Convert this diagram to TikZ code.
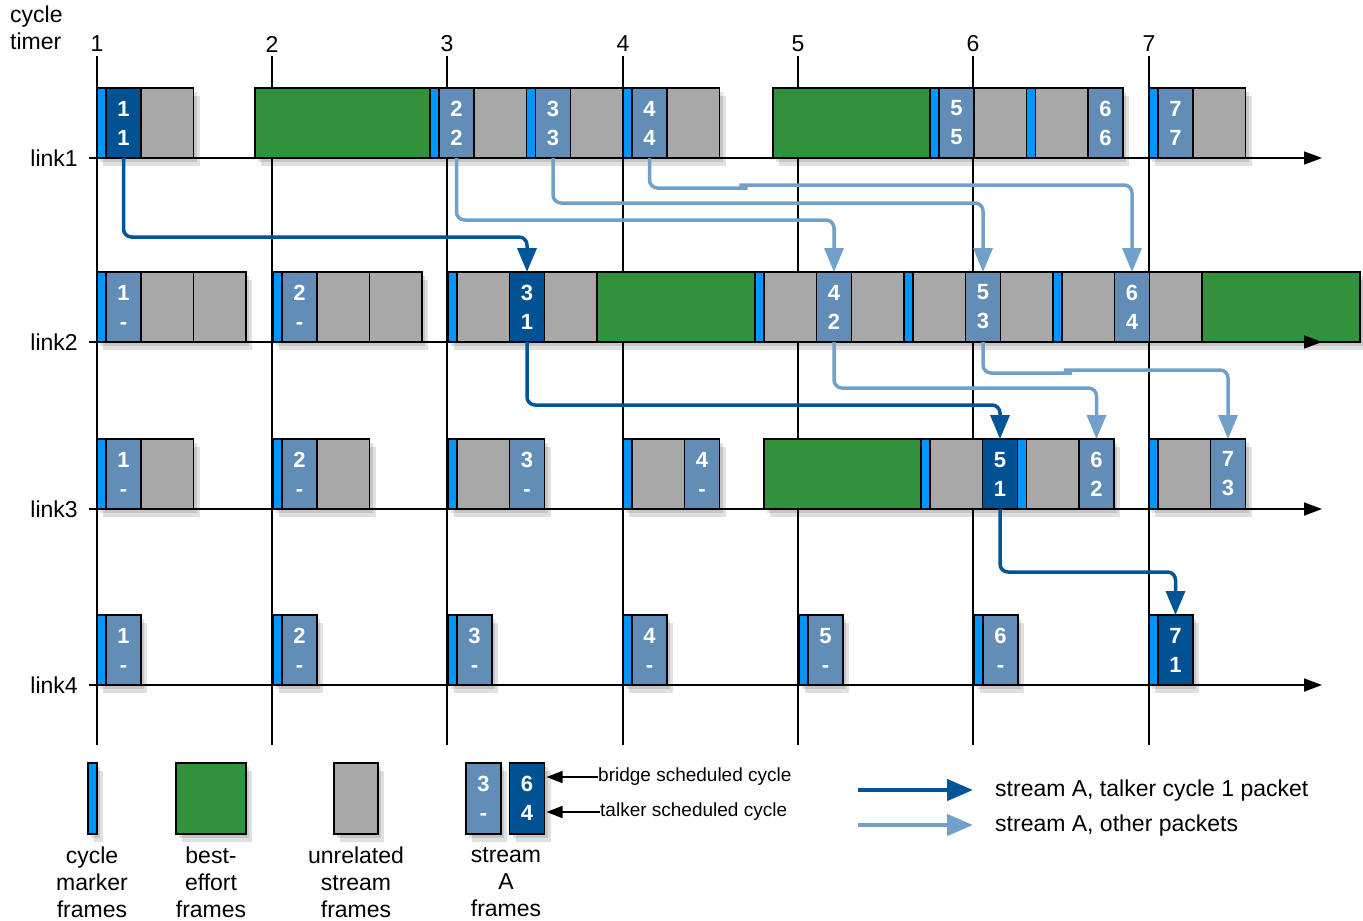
\documentclass[tikz,border=0pt]{standalone}
\usepackage{fontspec}
\setmainfont{Liberation Sans}
\usetikzlibrary{arrows.meta, positioning, backgrounds}
\definecolor{mkblue}{RGB}{0,150,255}
\definecolor{stlight}{RGB}{98,141,182}
\definecolor{stdark}{RGB}{0,82,147}
\definecolor{begreen}{RGB}{50,145,60}
\definecolor{ufgray}{RGB}{168,168,168}
\definecolor{clight}{RGB}{113,160,203}
\definecolor{cdark}{RGB}{0,85,150}

\begin{document}
\begin{tikzpicture}[
  x=1pt, y=-1pt,
  node distance=0pt,
  every node/.style={font=\fontsize{23}{27}\selectfont},
  frame/.style={rectangle, draw=black, line width=1.6pt, outer sep=0pt, inner sep=0pt,
    minimum height=70pt, text=white, align=center, font=\bfseries\fontsize{22}{29}\selectfont},
  mk/.style={frame, fill=mkblue, minimum width=9pt},
  sa/.style={frame, fill=stlight, minimum width=35pt},
  sd/.style={frame, fill=stdark, minimum width=35pt},
  uf/.style={frame, fill=ufgray, minimum width=52.5pt},
  be/.style={frame, fill=begreen, minimum width=#1},
  cyc/.style={line width=1.3pt},
  axis/.style={line width=1.5pt, -{Triangle[width=13pt,length=18pt]}},
  con/.style={line width=3.5pt, rounded corners=8pt, -{Triangle[width=19pt,length=24pt]}},
  darkcon/.style={con, draw=cdark},
  lightcon/.style={con, draw=clight},
  legarr/.style={line width=4.5pt, -{Triangle[width=21pt,length=26pt]}},
  pointer/.style={line width=1.5pt, -{Triangle[width=12pt,length=16pt]}, shorten >=2pt},
  boxshade/.style={fill=black, opacity=0.12},
]
\useasboundingbox (0,0) rectangle (1363,921);

%% cycle timer
\node[anchor=north west, align=left, inner sep=0pt] (ctim) at (10,6) {cycle\\timer};
\foreach \i/\x in {1/97,2/272,3/447,4/623,5/798,6/973,7/1149} {
  \node[inner sep=4pt] (t\i) at (\x,44) {\i};
  \coordinate (g\i) at (\x,745);
  \draw[cyc] (t\i) -- (g\i);
}

%% link labels
\foreach \r/\y in {1/158,2/342,3/509,4/685} {
  \node[anchor=east, inner sep=0pt] (l\r) at (78,\y) {link\r};
  \coordinate (e\r) at (1322,\y);
}

%% link1
\node[mk, anchor=south west] (m1a) at (97,158) {};
\node[sd, right=of m1a] (a1) {1\\1};
\node[uf, right=of a1] (u1a) {};
\node[be=175pt, anchor=south west] (g1a) at (255,158) {};
\node[mk, right=of g1a] (m1b) {};
\node[sa, right=of m1b] (a2) {2\\2};
\node[uf, right=of a2] (u1b) {};
\node[mk, right=of u1b] (m1c) {};
\node[sa, right=of m1c] (a3) {3\\3};
\node[uf, right=of a3] (u1c) {};
\node[mk, right=of u1c] (m1d) {};
\node[sa, right=of m1d] (a4) {4\\4};
\node[uf, right=of a4] (u1d) {};
\node[be=157pt, anchor=south west] (g1b) at (773,158) {};
\node[mk, right=of g1b] (m1e) {};
\node[sa, right=of m1e] (a5) {5\\5};
\node[uf, right=of a5] (u1e) {};
\node[mk, right=of u1e] (m1f) {};
\node[uf, right=of m1f] (u1f) {};
\node[sa, right=of u1f] (a6) {6\\6};
\node[mk, anchor=south west] (m1g) at (1149,158) {};
\node[sa, right=of m1g] (a7) {7\\7};
\node[uf, right=of a7] (u1g) {};

%% link2
\node[mk, anchor=south west] (m2a) at (97,342) {};
\node[sa, right=of m2a] (b1) {1\\-};
\node[uf, right=of b1] (u2a) {};
\node[uf, right=of u2a] (u2b) {};
\node[mk, anchor=south west] (m2b) at (273,342) {};
\node[sa, right=of m2b] (b2) {2\\-};
\node[uf, right=of b2] (u2c) {};
\node[uf, right=of u2c] (u2d) {};
\node[mk, anchor=south west] (m2c) at (448,342) {};
\node[uf, right=of m2c] (u2e) {};
\node[sd, right=of u2e] (b3) {3\\1};
\node[uf, right=of b3] (u2f) {};
\node[be=158pt, right=of u2f] (g2a) {};
\node[mk, right=of g2a] (m2d) {};
\node[uf, right=of m2d] (u2g) {};
\node[sa, right=of u2g] (b4) {4\\2};
\node[uf, right=of b4] (u2h) {};
\node[mk, right=of u2h] (m2e) {};
\node[uf, right=of m2e] (u2i) {};
\node[sa, right=of u2i] (b5) {5\\3};
\node[uf, right=of b5] (u2j) {};
\node[mk, right=of u2j] (m2f) {};
\node[uf, right=of m2f] (u2k) {};
\node[sa, right=of u2k] (b6) {6\\4};
\node[uf, right=of b6] (u2l) {};
\node[be=158pt, right=of u2l] (g2b) {};

%% link3
\node[mk, anchor=south west] (m3a) at (97,509) {};
\node[sa, right=of m3a] (c1) {1\\-};
\node[uf, right=of c1] (u3a) {};
\node[mk, anchor=south west] (m3b) at (273,509) {};
\node[sa, right=of m3b] (c2) {2\\-};
\node[uf, right=of c2] (u3b) {};
\node[mk, anchor=south west] (m3c) at (448,509) {};
\node[uf, right=of m3c] (u3c) {};
\node[sa, right=of u3c] (c3) {3\\-};
\node[mk, anchor=south west] (m3d) at (623,509) {};
\node[uf, right=of m3d] (u3d) {};
\node[sa, right=of u3d] (c4) {4\\-};
\node[be=157pt, anchor=south west] (g3a) at (764,509) {};
\node[mk, right=of g3a] (m3e) {};
\node[uf, right=of m3e] (u3e) {};
\node[sd, right=of u3e] (c5) {5\\1};
\node[mk, right=of c5] (m3f) {};
\node[uf, right=of m3f] (u3f) {};
\node[sa, right=of u3f] (c6) {6\\2};
\node[mk, anchor=south west] (m3g) at (1149,509) {};
\node[uf, right=of m3g] (u3g) {};
\node[sa, right=of u3g] (c7) {7\\3};

%% link4
\foreach \i/\x in {1/97,2/273,3/448,4/623,5/799,6/974} {
  \node[mk, anchor=south west] (m4\i) at (\x,685) {};
  \node[sa, right=of m4\i] (d\i) {\i\\-};
}
\node[mk, anchor=south west] (m47) at (1149,685) {};
\node[sd, right=of m47] (d7) {7\\1};

%% axes
\foreach \r in {1,...,4}
  \draw[axis] ([xshift=11pt]l\r.east) -- (e\r);

%% stream A paths
\draw[darkcon] (a1.south) -- ++(0,79) -| (b3.north);
\draw[darkcon] (b3.south) -- ++(0,63) -| (c5.north);
\draw[darkcon] (c5.south) -- ++(0,63) -| (d7.north);
\draw[lightcon] (a2.south) -- ++(0,62) -| (b4.north);
\draw[lightcon] (a3.south) -- ++(0,45) -| (b5.north);
\draw[lightcon] (a4.south) -- ++(0,30) -- ++(90,0) to[out=0,in=180] ++(8,-3) -| (b6.north);
\draw[lightcon] (b4.south) -- ++(0,46) -| (c6.north);
\draw[lightcon] (b5.south) -- ++(0,31) -- ++(81,0) to[out=0,in=180] ++(8,-3) -| (c7.north);

%% legend
\node[mk, minimum height=71pt, anchor=south west] (lm) at (88,834) {};
\node[be=70pt, minimum height=71pt, anchor=south west] (lg) at (176,834) {};
\node[uf, minimum width=44pt, minimum height=71pt, anchor=south west] (lu) at (334,834) {};
\node[sa, minimum height=71pt, anchor=south west] (ls) at (466,834) {3\\-};
\node[sd, minimum height=71pt, anchor=south west] (ld) at (509.5,834) {6\\4};

\node[anchor=north, align=center, inner sep=0pt] (lmt) at (92,847) {cycle\\marker\\frames};
\node[anchor=north, align=center, inner sep=0pt] (lgt) at (211,847) {best-\\effort\\frames};
\node[anchor=north, align=center, inner sep=0pt] (lut) at (356,847) {unrelated\\stream\\frames};
\node[anchor=north, align=center, inner sep=0pt] (lst) at (506,847) {stream\\A\\frames};

\node[anchor=west, inner sep=0pt, font=\fontsize{19}{22}\selectfont] (brg) at (598,777) {bridge scheduled cycle};
\node[anchor=west, inner sep=0pt, font=\fontsize{19}{22}\selectfont] (tlk) at (600,812) {talker scheduled cycle};
\draw[pointer] (brg.west) -- (ld.east |- brg.west);
\draw[pointer] (tlk.west) -- (ld.east |- tlk.west);

\coordinate (ka) at (858,790);
\coordinate (kb) at (858,825);
\node[anchor=west, inner sep=0pt] (lka) at (995,791) {stream A, talker cycle 1 packet};
\node[anchor=west, inner sep=0pt] (lkb) at (995,826) {stream A, other packets};
\draw[legarr, draw=cdark, shorten >=22pt] (ka) -- (ka -| lka.west);
\draw[legarr, draw=clight, shorten >=22pt] (kb) -- (kb -| lkb.west);

%% shadows
\begin{scope}[on background layer]
\foreach \p/\q in {m1a/u1a, g1a/u1d, g1b/a6, m1g/u1g,
    m2a/u2b, m2b/u2d, m2c/g2b,
    m3a/u3a, m3b/u3b, m3c/c3, m3d/c4, g3a/c6, m3g/c7,
    m41/d1, m42/d2, m43/d3, m44/d4, m45/d5, m46/d6, m47/d7,
    lm/lm, lg/lg, lu/lu, ls/ls, ld/ld} {
  \fill[boxshade] ([xshift=3pt,yshift=-4pt]\p.south west) rectangle ([xshift=3pt,yshift=-4pt]\q.north east);
  \fill[boxshade] ([xshift=6pt,yshift=-8pt]\p.south west) rectangle ([xshift=6pt,yshift=-8pt]\q.north east);
}
\end{scope}
\end{tikzpicture}
\end{document}
